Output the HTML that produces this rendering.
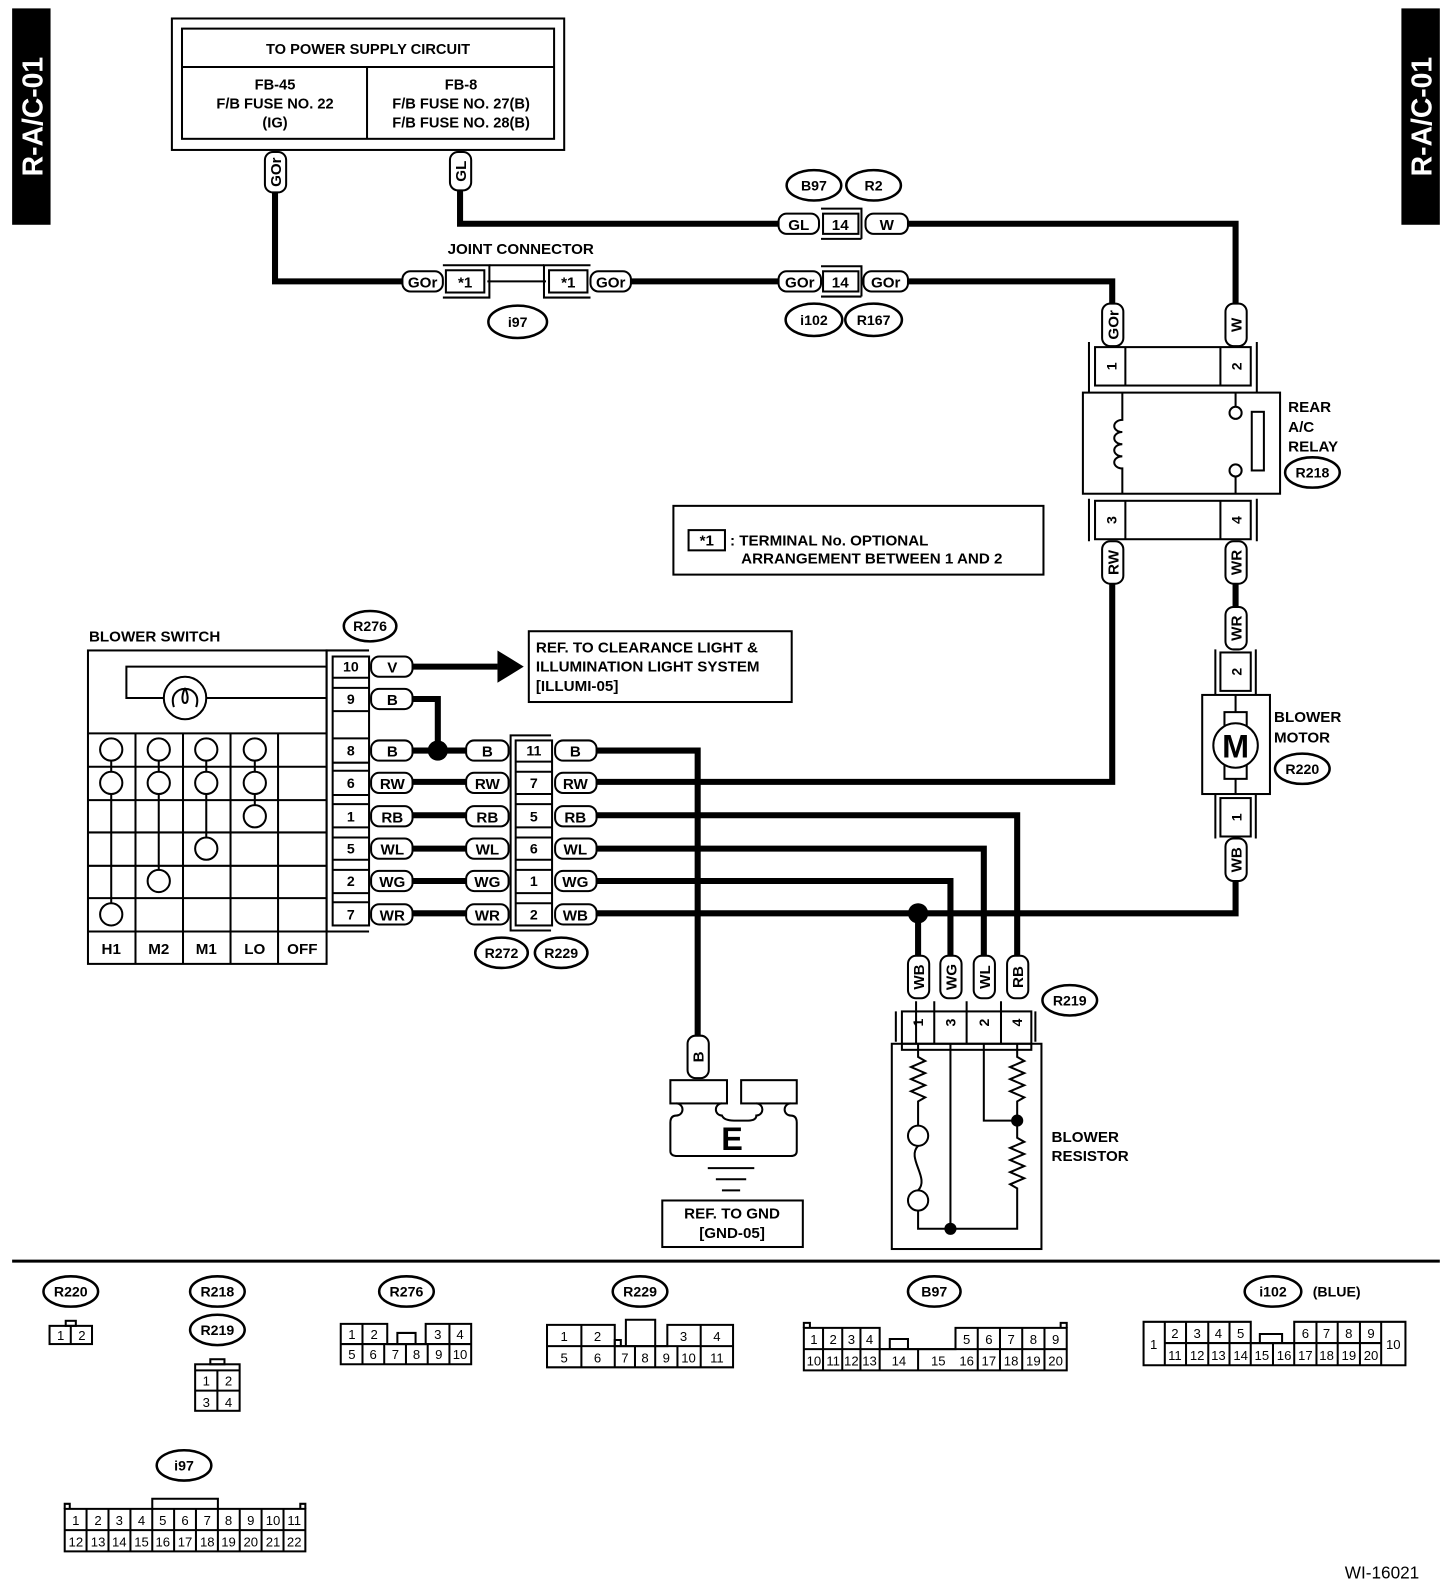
<!DOCTYPE html>
<html><head><meta charset="utf-8"><style>
html,body{margin:0;padding:0;background:#fff;}
svg{display:block;}
text{font-family:"Liberation Sans",sans-serif;font-weight:bold;fill:#000;stroke:none;}
.w{stroke:#000;stroke-width:6;fill:none;stroke-linejoin:miter;}
.l{stroke:#000;stroke-width:2;fill:#fff;}
.n{stroke:#000;stroke-width:2;fill:none;}
.p{stroke:#000;stroke-width:2;fill:#fff;}
.e{stroke:#000;stroke-width:2.5;fill:none;}
.c text{font-weight:normal;}
</style></head><body>
<svg width="1456" height="1584" viewBox="0 0 1440 1566" xmlns="http://www.w3.org/2000/svg">
<!-- side tabs -->
<rect x="12" y="8" width="38" height="214" fill="#000"/>
<text x="0" y="0" transform="translate(42,115) rotate(-90)" text-anchor="middle" font-size="28" style="fill:#fff">R-A/C-01</text>
<rect x="1386" y="8" width="38" height="214" fill="#000"/>
<text x="0" y="0" transform="translate(1416,115) rotate(-90)" text-anchor="middle" font-size="28" style="fill:#fff">R-A/C-01</text>

<!-- power box -->
<rect x="170" y="18" width="388" height="130" class="n"/>
<rect x="180" y="28" width="368" height="109" class="n" stroke-width="3"/>
<line x1="180" y1="66" x2="548" y2="66" class="n"/>
<line x1="363" y1="66" x2="363" y2="137" class="n"/>
<g font-size="14.5" text-anchor="middle">
<text x="364" y="53">TO POWER SUPPLY CIRCUIT</text>
<text x="272" y="88">FB-45</text><text x="272" y="107">F/B FUSE NO. 22</text><text x="272" y="126">(IG)</text>
<text x="456" y="88">FB-8</text><text x="456" y="107">F/B FUSE NO. 27(B)</text><text x="456" y="126">F/B FUSE NO. 28(B)</text>
</g>

<!-- wires top -->
<path class="w" d="M272 190 V278 H400"/>
<path class="w" d="M624 278 H770"/>
<path class="w" d="M898 278 H1100 V300"/>
<path class="w" d="M455 188 V221 H770"/>
<path class="w" d="M898 221 H1222 V300"/>
<line x1="482" y1="278" x2="540" y2="278" class="n"/>

<g font-size="15" text-anchor="middle">
<rect x="262" y="150" width="21" height="40" rx="8" class="p"/><text transform="translate(278,170) rotate(-90)">GOr</text>
<rect x="445" y="150" width="21" height="38" rx="8" class="p"/><text transform="translate(461,169) rotate(-90)">GL</text>
<rect x="398" y="268" width="40" height="20" rx="8" class="p"/><text x="418" y="284">GOr</text>
<rect x="584" y="268" width="40" height="20" rx="8" class="p"/><text x="604" y="284">GOr</text>
<rect x="770" y="268" width="42" height="20" rx="8" class="p"/><text x="791" y="284">GOr</text>
<rect x="854" y="268" width="44" height="20" rx="8" class="p"/><text x="876" y="284">GOr</text>
<rect x="770" y="211" width="40" height="20" rx="8" class="p"/><text x="790" y="227">GL</text>
<rect x="856" y="211" width="42" height="20" rx="8" class="p"/><text x="877" y="227">W</text>
</g>
<rect x="441" y="267" width="38" height="22" class="l"/><text x="460" y="284" font-size="15" text-anchor="middle">*1</text>
<rect x="543" y="267" width="38" height="22" class="l"/><text x="562" y="284" font-size="15" text-anchor="middle">*1</text>
<path class="n" d="M438 262 H484 V294 H438 M584 262 H538 V294 H584"/>
<line x1="484" y1="262" x2="538" y2="262" class="n"/>
<text x="515" y="251" font-size="15" text-anchor="middle">JOINT CONNECTOR</text>
<rect x="814" y="211" width="35" height="20" class="l"/><text x="831" y="227" font-size="15" text-anchor="middle">14</text>
<path class="n" d="M812 206 H852 V236 M812 236 H852"/>
<rect x="814" y="268" width="35" height="20" class="l"/><text x="831" y="284" font-size="15" text-anchor="middle">14</text>
<path class="n" d="M812 263 H852 V293 M812 293 H852"/>
<g font-size="14" text-anchor="middle">
<ellipse cx="805" cy="183" rx="27" ry="15" class="e"/><text x="805" y="188">B97</text>
<ellipse cx="864" cy="183" rx="27" ry="15" class="e"/><text x="864" y="188">R2</text>
<ellipse cx="512" cy="318" rx="29" ry="16" class="e"/><text x="512" y="323">i97</text>
<ellipse cx="805" cy="316" rx="28" ry="16" class="e"/><text x="805" y="321">i102</text>
<ellipse cx="864" cy="316" rx="28" ry="16" class="e"/><text x="864" y="321">R167</text>
</g>

<!-- relay -->
<g font-size="15" text-anchor="middle">
<rect x="1090" y="300" width="21" height="42" rx="8" class="p"/><text transform="translate(1106,321) rotate(-90)">GOr</text>
<rect x="1212" y="300" width="21" height="42" rx="8" class="p"/><text transform="translate(1228,321) rotate(-90)">W</text>
<rect x="1090" y="535" width="21" height="42" rx="8" class="p"/><text transform="translate(1106,556) rotate(-90)">RW</text>
<rect x="1212" y="535" width="21" height="42" rx="8" class="p"/><text transform="translate(1228,556) rotate(-90)">WR</text>
</g>
<path class="n" d="M1077 338 V388 M1243 338 V388 M1077 493 V535 M1243 493 V535"/>
<rect x="1083" y="343" width="154" height="38" class="n" stroke-width="3"/>
<line x1="1113" y1="343" x2="1113" y2="381" class="n"/><line x1="1207" y1="343" x2="1207" y2="381" class="n"/>
<rect x="1083" y="495" width="154" height="38" class="n" stroke-width="3"/>
<line x1="1113" y1="495" x2="1113" y2="533" class="n"/><line x1="1207" y1="495" x2="1207" y2="533" class="n"/>
<g font-size="14" text-anchor="middle">
<text transform="translate(1104,362) rotate(-90)">1</text><text transform="translate(1228,362) rotate(-90)">2</text>
<text transform="translate(1104,514) rotate(-90)">3</text><text transform="translate(1228,514) rotate(-90)">4</text>
</g>
<rect x="1071" y="388" width="195" height="100" class="n" stroke-width="3"/>
<path class="n" d="M1110 388 V415 A8 6 0 1 0 1110 427 A8 6 0 1 0 1110 439 A8 6 0 1 0 1110 451 A8 6 0 1 0 1110 463 V488"/>
<path class="n" d="M1222 388 V402 M1222 471 V488"/>
<circle cx="1222" cy="408" r="6" class="l"/><circle cx="1222" cy="465" r="6" class="l"/>
<rect x="1238" y="407" width="12" height="58" class="n"/>
<g font-size="15"><text x="1274" y="407">REAR</text><text x="1274" y="427">A/C</text><text x="1274" y="446">RELAY</text></g>
<ellipse cx="1298" cy="467" rx="27" ry="15" class="e"/><text x="1298" y="472" font-size="14" text-anchor="middle">R218</text>

<!-- note box -->
<rect x="666" y="500" width="366" height="68" class="n"/>
<rect x="681" y="524" width="36" height="20" class="n"/><text x="699" y="539" font-size="15" text-anchor="middle">*1</text>
<text x="722" y="539" font-size="15">: TERMINAL No. OPTIONAL</text>
<text x="733" y="557" font-size="15">ARRANGEMENT BETWEEN 1 AND 2</text>

<!-- motor -->
<path class="w" d="M1222 577 V600"/>
<g font-size="15" text-anchor="middle">
<rect x="1212" y="600" width="21" height="42" rx="8" class="p"/><text transform="translate(1228,621) rotate(-90)">WR</text>
<rect x="1212" y="829" width="21" height="42" rx="8" class="p"/><text transform="translate(1228,850) rotate(-90)">WB</text>
</g>
<path class="n" d="M1202 642 V687 M1242 642 V687 M1202 785 V829 M1242 785 V829"/>
<rect x="1207" y="645" width="30" height="38" class="n"/><text transform="translate(1228,664) rotate(-90)" font-size="14" text-anchor="middle">2</text>
<rect x="1207" y="789" width="30" height="38" class="n"/><text transform="translate(1228,808) rotate(-90)" font-size="14" text-anchor="middle">1</text>
<rect x="1189" y="687" width="67" height="98" class="n" stroke-width="3"/>
<path class="n" d="M1222 687 V704 M1222 770 V785"/>
<rect x="1211" y="704" width="22" height="66" class="n"/>
<circle cx="1222" cy="737" r="22" class="l" stroke-width="2.5"/>
<text x="1222" y="749" font-size="32" text-anchor="middle">M</text>
<g font-size="15"><text x="1260" y="714">BLOWER</text><text x="1260" y="734">MOTOR</text></g>
<ellipse cx="1288" cy="760" rx="27" ry="15" class="e"/><text x="1288" y="765" font-size="14" text-anchor="middle">R220</text>

<!-- harness wires -->
<path class="w" d="M1100 577 V773 H590"/>
<path class="w" d="M1222 871 V903 H590"/>
<path class="w" d="M408 659 H492"/>
<polygon points="492,643 518,659 492,675"/>
<path class="w" d="M408 691 H433 V742"/>
<path class="w" d="M408 742 H461 M408 773 H461 M408 806 H461 M408 839 H461 M408 871 H461 M408 903 H461"/>
<circle cx="433" cy="742" r="10"/>
<path class="w" d="M590 742 H690 V1024"/>
<path class="w" d="M590 806 H1006 V945"/>
<path class="w" d="M590 839 H973 V945"/>
<path class="w" d="M590 871 H940 V945"/>
<path class="w" d="M908 903 V945"/>
<circle cx="908" cy="903" r="10"/>

<rect x="523" y="624" width="260" height="70" class="n"/>
<g font-size="15"><text x="530" y="645">REF. TO CLEARANCE LIGHT &amp;</text><text x="530" y="664">ILLUMINATION LIGHT SYSTEM</text><text x="530" y="683">[ILLUMI-05]</text></g>

<!-- blower switch -->
<text x="88" y="634" font-size="15">BLOWER SWITCH</text>
<rect x="87" y="643" width="236" height="310" class="n" stroke-width="3"/>
<path class="n" d="M323 659 H125 V690 H323"/>
<circle cx="183" cy="690" r="21" class="l"/>
<path class="n" d="M172 699 C164 675 202 675 194 699 M183 680 C174 700 192 700 183 680"/>
<path class="n" d="M87 725 H323 M87 758 H323 M87 791 H323 M87 823 H323 M87 856 H323 M87 888 H323 M87 921 H323 M134 725 V953 M181 725 V953 M228 725 V953 M275 725 V953"/>
<path class="n" d="M110 741 V904 M157 741 V871 M204 741 V839 M252 741 V807"/>
<g class="l">
<circle cx="110" cy="741" r="11"/><circle cx="157" cy="741" r="11"/><circle cx="204" cy="741" r="11"/><circle cx="252" cy="741" r="11"/>
<circle cx="110" cy="774" r="11"/><circle cx="157" cy="774" r="11"/><circle cx="204" cy="774" r="11"/><circle cx="252" cy="774" r="11"/>
<circle cx="252" cy="807" r="11"/><circle cx="204" cy="839" r="11"/><circle cx="157" cy="871" r="11"/><circle cx="110" cy="904" r="11"/>
</g>
<g font-size="15" text-anchor="middle"><text x="110" y="943">H1</text><text x="157" y="943">M2</text><text x="204" y="943">M1</text><text x="252" y="943">LO</text><text x="299" y="943">OFF</text></g>

<!-- R276 connector -->
<path class="n" d="M365 643 H323 V921 H365"/>
<rect x="329" y="649" width="36" height="266" class="n"/>
<path class="n" d="M329 670 H365 M329 680 H365 M329 703 H365 M329 730 H365 M329 754 H365 M329 762 H365 M329 786 H365 M329 795 H365 M329 818 H365 M329 828 H365 M329 850 H365 M329 860 H365 M329 883 H365 M329 892 H365"/>
<g font-size="14" text-anchor="middle"><text x="347" y="664">10</text><text x="347" y="696">9</text><text x="347" y="747">8</text><text x="347" y="779">6</text><text x="347" y="812">1</text><text x="347" y="844">5</text><text x="347" y="876">2</text><text x="347" y="909">7</text></g>
<ellipse cx="366" cy="619" rx="26" ry="15" class="e"/><text x="366" y="624" font-size="14" text-anchor="middle">R276</text>
<g font-size="15" text-anchor="middle">
<rect x="367" y="649" width="41" height="20" rx="8" class="p"/><text x="388" y="665">V</text>
<rect x="367" y="681" width="41" height="20" rx="8" class="p"/><text x="388" y="697">B</text>
<rect x="367" y="732" width="41" height="20" rx="8" class="p"/><text x="388" y="748">B</text>
<rect x="367" y="764" width="41" height="20" rx="8" class="p"/><text x="388" y="780">RW</text>
<rect x="367" y="797" width="41" height="20" rx="8" class="p"/><text x="388" y="813">RB</text>
<rect x="367" y="829" width="41" height="20" rx="8" class="p"/><text x="388" y="845">WL</text>
<rect x="367" y="861" width="41" height="20" rx="8" class="p"/><text x="388" y="877">WG</text>
<rect x="367" y="894" width="41" height="20" rx="8" class="p"/><text x="388" y="910">WR</text>

<rect x="461" y="732" width="42" height="20" rx="8" class="p"/><text x="482" y="748">B</text>
<rect x="461" y="764" width="42" height="20" rx="8" class="p"/><text x="482" y="780">RW</text>
<rect x="461" y="797" width="42" height="20" rx="8" class="p"/><text x="482" y="813">RB</text>
<rect x="461" y="829" width="42" height="20" rx="8" class="p"/><text x="482" y="845">WL</text>
<rect x="461" y="861" width="42" height="20" rx="8" class="p"/><text x="482" y="877">WG</text>
<rect x="461" y="894" width="42" height="20" rx="8" class="p"/><text x="482" y="910">WR</text>

<rect x="549" y="732" width="41" height="20" rx="8" class="p"/><text x="569" y="748">B</text>
<rect x="549" y="764" width="41" height="20" rx="8" class="p"/><text x="569" y="780">RW</text>
<rect x="549" y="797" width="41" height="20" rx="8" class="p"/><text x="569" y="813">RB</text>
<rect x="549" y="829" width="41" height="20" rx="8" class="p"/><text x="569" y="845">WL</text>
<rect x="549" y="861" width="41" height="20" rx="8" class="p"/><text x="569" y="877">WG</text>
<rect x="549" y="894" width="41" height="20" rx="8" class="p"/><text x="569" y="910">WB</text>
</g>
<path class="n" d="M545 727 H505 V920 H545"/>
<rect x="510" y="732" width="36" height="183" class="n"/>
<path class="n" d="M510 753 H546 M510 763 H546 M510 785 H546 M510 795 H546 M510 818 H546 M510 828 H546 M510 850 H546 M510 860 H546 M510 883 H546 M510 893 H546"/>
<g font-size="14" text-anchor="middle"><text x="528" y="747">11</text><text x="528" y="779">7</text><text x="528" y="812">5</text><text x="528" y="844">6</text><text x="528" y="876">1</text><text x="528" y="909">2</text></g>
<ellipse cx="496" cy="942" rx="26" ry="15" class="e"/><text x="496" y="947" font-size="14" text-anchor="middle">R272</text>
<ellipse cx="555" cy="942" rx="26" ry="15" class="e"/><text x="555" y="947" font-size="14" text-anchor="middle">R229</text>

<!-- ground -->
<rect x="680" y="1024" width="21" height="42" rx="8" class="p"/><text transform="translate(696,1045) rotate(-90)" font-size="15" text-anchor="middle">B</text>
<rect x="663" y="1068" width="56" height="23" class="n" stroke-width="2.5"/>
<rect x="733" y="1068" width="55" height="23" class="n" stroke-width="2.5"/>
<path class="n" stroke-width="2.5" d="M669 1091 A6 6 0 0 1 669 1103 Q663 1103 663 1110 V1138 Q663 1143 670 1143 H782 Q788 1143 788 1138 V1110 Q788 1103 782 1103 A6 6 0 0 1 782 1091 M714 1091 A6 6 0 0 0 714 1103 Q716 1108 726 1108 H740 Q748 1108 748 1103 A6 6 0 0 0 748 1091"/>
<text x="724" y="1137" font-size="32" text-anchor="middle">E</text>
<path class="n" stroke-width="2.5" d="M700 1155 H746 M708 1166 H738 M714 1177 H732"/>
<rect x="655" y="1187" width="139" height="46" class="n" stroke-width="2.5"/>
<g font-size="15" text-anchor="middle"><text x="724" y="1205">REF. TO GND</text><text x="724" y="1224">[GND-05]</text></g>

<!-- blower resistor -->
<g font-size="15" text-anchor="middle">
<rect x="898" y="945" width="21" height="42" rx="8" class="p"/><text transform="translate(914,966) rotate(-90)">WB</text>
<rect x="930" y="945" width="21" height="42" rx="8" class="p"/><text transform="translate(946,966) rotate(-90)">WG</text>
<rect x="963" y="945" width="21" height="42" rx="8" class="p"/><text transform="translate(979,966) rotate(-90)">WL</text>
<rect x="996" y="945" width="21" height="42" rx="8" class="p"/><text transform="translate(1012,966) rotate(-90)">RB</text>
</g>
<path class="n" d="M886 1030 V1000 M1024 1030 V1000"/>
<rect x="892" y="1000" width="128" height="38" class="n"/>
<path class="n" d="M892 1032 H1020 M906 990 V1032 M924 990 V1032 M956 990 V1032 M990 990 V1032"/>
<g font-size="14" text-anchor="middle"><text transform="translate(913,1011) rotate(-90)">1</text><text transform="translate(945,1011) rotate(-90)">3</text><text transform="translate(978,1011) rotate(-90)">2</text><text transform="translate(1011,1011) rotate(-90)">4</text></g>
<ellipse cx="1058" cy="989" rx="27" ry="15" class="e"/><text x="1058" y="994" font-size="14" text-anchor="middle">R219</text>
<rect x="882" y="1032" width="148" height="203" class="n" stroke-width="3"/>
<path class="n" d="M908 1032 V1045 L915 1049 L901 1055 L915 1061 L901 1067 L915 1073 L901 1079 L915 1085 L908 1089 V1113"/>
<circle cx="908" cy="1123" r="10" class="l"/>
<path class="n" d="M908 1133 C896 1145 920 1165 908 1177"/>
<circle cx="908" cy="1187" r="10" class="l"/>
<path class="n" d="M908 1197 V1215 H1006 V1175 L999 1171 L1013 1165 L999 1159 L1013 1153 L999 1147 L1013 1141 L999 1135 L1013 1129 L1006 1125 V1108"/>
<path class="n" d="M940 1032 V1215"/>
<path class="n" d="M973 1032 V1108 H1006"/>
<path class="n" d="M1006 1032 V1045 L1013 1049 L999 1055 L1013 1061 L999 1067 L1013 1073 L999 1079 L1013 1085 L1006 1089 V1108"/>
<circle cx="1006" cy="1108" r="6"/><circle cx="940" cy="1215" r="6"/>
<g font-size="15"><text x="1040" y="1129">BLOWER</text><text x="1040" y="1148">RESISTOR</text></g>

<line x1="12" y1="1247" x2="1424" y2="1247" stroke="#000" stroke-width="3"/>

<g font-size="14" text-anchor="middle">
<ellipse cx="70" cy="1277" rx="27" ry="15" class="e"/><text x="70" y="1282">R220</text>
<ellipse cx="215" cy="1277" rx="27" ry="15" class="e"/><text x="215" y="1282">R218</text>
<ellipse cx="215" cy="1315" rx="27" ry="15" class="e"/><text x="215" y="1320">R219</text>
<ellipse cx="402" cy="1277" rx="27" ry="15" class="e"/><text x="402" y="1282">R276</text>
<ellipse cx="633" cy="1277" rx="27" ry="15" class="e"/><text x="633" y="1282">R229</text>
<ellipse cx="924" cy="1277" rx="26" ry="15" class="e"/><text x="924" y="1282">B97</text>
<ellipse cx="1259" cy="1277" rx="28" ry="15" class="e"/><text x="1259" y="1282">i102</text>
<text x="1322" y="1282">(BLUE)</text>
<ellipse cx="182" cy="1449" rx="27" ry="15" class="e"/><text x="182" y="1454">i97</text>
</g>
<g class="c" font-size="13" text-anchor="middle">
<rect x="49" y="1311" width="42" height="18" class="n" stroke-width="1.5"/><line x1="70" y1="1311" x2="70" y2="1329" class="n" stroke-width="1.5"/><rect x="65" y="1306" width="10" height="5" class="n" stroke-width="1.5"/>
<text x="60" y="1325">1</text><text x="81" y="1325">2</text>
<rect x="193" y="1349" width="44" height="46" class="n" stroke-width="1.5"/><path class="n" stroke-width="1.5" d="M193 1355 H237 M193 1375 H237 M215 1355 V1395"/><rect x="208" y="1344" width="14" height="5" class="n" stroke-width="1.5"/>
<text x="204" y="1370">1</text><text x="226" y="1370">2</text><text x="204" y="1391">3</text><text x="226" y="1391">4</text>
<!-- R276 -->
<path class="n" stroke-width="1.5" d="M337 1309 H383 V1329 H421 V1309 H466 V1349 H337 Z"/>
<path class="n" stroke-width="1.5" d="M337 1329 H466 M358.5 1309 V1349 M380 1329 V1349 M401.5 1329 V1349 M423 1329 V1349 M444.5 1309 V1349 M393 1329 V1318 H411 V1329"/>
<text x="348" y="1324">1</text><text x="370" y="1324">2</text><text x="433" y="1324">3</text><text x="455" y="1324">4</text>
<text x="348" y="1344">5</text><text x="369" y="1344">6</text><text x="391" y="1344">7</text><text x="412" y="1344">8</text><text x="434" y="1344">9</text><text x="455" y="1344">10</text>
<!-- R229 -->
<path class="n" stroke-width="1.5" d="M541 1310 H608 V1331 H660 V1310 H725 V1352 H541 Z"/>
<path class="n" stroke-width="1.5" d="M541 1331 H725 M575 1310 V1352 M608 1331 V1352 M628 1331 V1352 M648 1331 V1352 M670 1331 V1352 M693 1310 V1352 M619 1331 V1305 H648 V1331 M608 1331 V1325 H614 V1331"/>
<text x="558" y="1326">1</text><text x="591" y="1326">2</text><text x="676" y="1326">3</text><text x="709" y="1326">4</text>
<text x="558" y="1347">5</text><text x="591" y="1347">6</text><text x="618" y="1347">7</text><text x="638" y="1347">8</text><text x="659" y="1347">9</text><text x="681" y="1347">10</text><text x="709" y="1347">11</text>
<!-- B97 -->
<path class="n" stroke-width="1.5" d="M795 1313 H870 V1334 H945 V1313 H1055 V1355 H795 Z"/>
<path class="n" stroke-width="1.5" d="M795 1334 H1055 M814 1313 V1355 M833 1313 V1355 M851 1313 V1355 M870 1334 V1355 M908 1334 V1355 M967 1313 V1355 M989 1313 V1355 M1011 1313 V1355 M1033 1313 V1355 M880 1334 V1324 H898 V1334 M795 1313 V1308 H801 V1313 M1049 1313 V1308 H1055 V1313"/>
<text x="805" y="1329">1</text><text x="824" y="1329">2</text><text x="842" y="1329">3</text><text x="860" y="1329">4</text><text x="956" y="1329">5</text><text x="978" y="1329">6</text><text x="1000" y="1329">7</text><text x="1022" y="1329">8</text><text x="1044" y="1329">9</text>
<text x="805" y="1350">10</text><text x="824" y="1350">11</text><text x="842" y="1350">12</text><text x="860" y="1350">13</text><text x="889" y="1350">14</text><text x="928" y="1350">15</text><text x="956" y="1350">16</text><text x="978" y="1350">17</text><text x="1000" y="1350">18</text><text x="1022" y="1350">19</text><text x="1044" y="1350">20</text>
<!-- i102 -->
<path class="n" stroke-width="1.5" d="M1131 1307 H1237 V1328 H1280 V1307 H1390 V1350 H1131 Z"/>
<path class="n" stroke-width="1.5" d="M1152 1307 V1350 M1152 1328 H1366 M1366 1307 V1350 M1173 1307 V1350 M1195 1307 V1350 M1216 1307 V1350 M1237 1328 V1350 M1259 1328 V1350 M1280 1328 V1350 M1302 1307 V1350 M1323 1307 V1350 M1345 1307 V1350 M1246 1328 V1319 H1268 V1328"/>
<text x="1141" y="1334">1</text><text x="1378" y="1334">10</text>
<text x="1162" y="1323">2</text><text x="1184" y="1323">3</text><text x="1205" y="1323">4</text><text x="1227" y="1323">5</text><text x="1291" y="1323">6</text><text x="1312" y="1323">7</text><text x="1334" y="1323">8</text><text x="1356" y="1323">9</text>
<text x="1162" y="1345">11</text><text x="1184" y="1345">12</text><text x="1205" y="1345">13</text><text x="1227" y="1345">14</text><text x="1248" y="1345">15</text><text x="1270" y="1345">16</text><text x="1291" y="1345">17</text><text x="1312" y="1345">18</text><text x="1334" y="1345">19</text><text x="1356" y="1345">20</text>
<!-- i97 -->
<path class="n" stroke-width="1.5" d="M64 1492 H302 V1534 H64 Z"/>
<path class="n" stroke-width="1.5" d="M64 1513 H302 M85.6 1492 V1534 M107.3 1492 V1534 M129 1492 V1534 M150.6 1492 V1534 M172.2 1492 V1534 M193.8 1492 V1534 M215.5 1492 V1534 M237.1 1492 V1534 M258.7 1492 V1534 M280.4 1492 V1534 M150.6 1492 V1482 H215.5 V1492 M64 1492 V1487 H69 V1492 M297 1492 V1487 H302 V1492"/>
<text x="75" y="1508">1</text><text x="97" y="1508">2</text><text x="118" y="1508">3</text><text x="140" y="1508">4</text><text x="161" y="1508">5</text><text x="183" y="1508">6</text><text x="205" y="1508">7</text><text x="226" y="1508">8</text><text x="248" y="1508">9</text><text x="270" y="1508">10</text><text x="291" y="1508">11</text>
<text x="75" y="1529">12</text><text x="97" y="1529">13</text><text x="118" y="1529">14</text><text x="140" y="1529">15</text><text x="161" y="1529">16</text><text x="183" y="1529">17</text><text x="205" y="1529">18</text><text x="226" y="1529">19</text><text x="248" y="1529">20</text><text x="270" y="1529">21</text><text x="291" y="1529">22</text>
</g>
<text x="1330" y="1561" font-size="17" style="font-weight:normal">WI-16021</text>
</svg>
</body></html>
